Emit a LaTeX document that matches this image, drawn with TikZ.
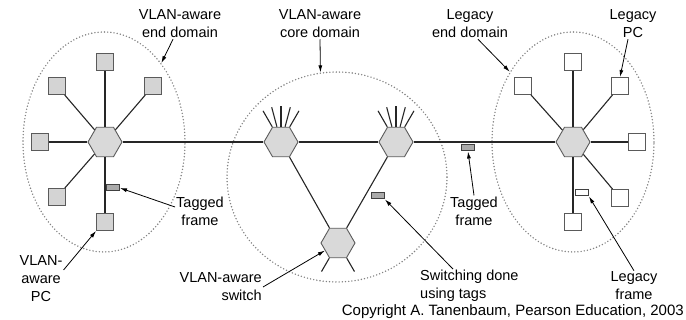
\documentclass[tikz,border=0pt]{standalone}
\usepackage{fontspec}
\setmainfont{Liberation Sans}
\usetikzlibrary{arrows.meta,positioning,calc,shapes.geometric}
\definecolor{hexgray}{RGB}{217,217,217}
\definecolor{boxgray}{RGB}{212,212,212}
\definecolor{edgegray}{RGB}{90,90,90}
\definecolor{dotgray}{RGB}{130,130,130}
\definecolor{tagfill}{RGB}{170,170,170}
\newcommand{\lblfont}{\fontsize{14.5}{18}\selectfont}

\begin{document}
\begin{tikzpicture}[x=1pt,y=1pt,
  hub/.style={regular polygon, regular polygon sides=6, minimum size=34pt, inner sep=0pt, draw=edgegray, fill=hexgray, line width=0.9pt},
  pcbox/.style={rectangle, minimum size=17pt, inner sep=0pt, draw=edgegray, fill=boxgray, line width=0.9pt},
  legbox/.style={pcbox, fill=white},
  tagbox/.style={rectangle, minimum width=13pt, minimum height=6pt, inner sep=0pt, draw=black!75, fill=tagfill, line width=1pt},
  vlanzone/.style={ellipse, inner sep=0pt, draw=dotgray, line width=1.6pt, line cap=round, dash pattern=on 0pt off 3.2pt},
  wire/.style={line width=1.1pt, black!85},
  lbl/.style={font=\lblfont, align=center, inner sep=1pt},
  arr/.style={-{Latex[length=7pt,width=4pt]}, line width=0.8pt}]
  \useasboundingbox (0,0) rectangle (686,320);

  \node[vlanzone, minimum width=162pt, minimum height=220pt] (ldom) at (104,178) {};
  \node[vlanzone, minimum width=220pt, minimum height=210pt] (cdom) at (337,143) {};
  \node[vlanzone, minimum width=162pt, minimum height=220pt] (rdom) at (573,178) {};

  \node[hub] (lh) at (105,178) {};
  \node[hub] (cl) at (281,178) {};
  \node[hub] (cr) at (396,178) {};
  \node[hub] (cb) at (338,77) {};
  \node[hub] (rh) at (573,178) {};

  \foreach \n/\x/\y in {1/105/258, 2/57/234, 3/153/234, 4/40/178, 5/57/123, 6/105/98}{
    \node[pcbox] (lq\n) at (\x,\y) {};
    \draw[wire] (lh) -- (lq\n);
  }
  \foreach \n/\x/\y in {1/573/258, 2/523/234, 3/620/234, 4/637/178, 5/620/122, 6/573/98}{
    \node[legbox] (rq\n) at (\x,\y) {};
    \draw[wire] (rh) -- (rq\n);
  }

  \draw[wire] (lh) -- (cl) -- (cr) -- (rh);
  \draw[wire] (cl) -- (cb) -- (cr);
  \foreach \a in {60,75,90,105,120}{
    \draw[wire] (cl.\a) -- ($(cl)+(\a:36)$);
    \draw[wire] (cr.\a) -- ($(cr)+(\a:36)$);
  }
  \foreach \a in {240,300}
    \draw[wire] (cb.\a) -- ($(cb)+(\a:33)$);

  \node[tagbox] (lframe) at (113,132) {};
  \node[tagbox] (mframe) at (468,172) {};
  \node[tagbox] (sframe) at (378,124) {};
  \node[tagbox, fill=white] (rframe) at (582,127) {};

  \node[lbl] (lenddom) at (180,296) {VLAN-aware\\end domain};
  \node[lbl] (cordom) at (320,296) {VLAN-aware\\core domain};
  \node[lbl] (legdom) at (470,296) {Legacy\\end domain};
  \node[lbl] (legpc) at (633,296) {Legacy\\PC};
  \node[lbl] (ltag) at (200,109) {Tagged\\frame};
  \node[lbl] (mtag) at (474,109) {Tagged\\frame};
  \node[lbl] (vpc) at (41,41) {VLAN-\\aware\\PC};
  \node[lbl, align=right, anchor=east] (vsw) at (263,33) {VLAN-aware\\switch};
  \node[lbl, align=left, anchor=west] (swtag) at (419,34) {Switching done\\using tags};
  \node[lbl] (legfr) at (634,34) {Legacy\\frame};
  \node[font=\fontsize{15}{18}\selectfont, anchor=east, inner sep=1pt] (copy) at (685,8) {Copyright A. Tanenbaum, Pearson Education, 2003};

  \draw[arr] ([xshift=-7pt]lenddom.south) -- (ldom.54);
  \draw[arr] (cordom.south) -- (cdom.99);
  \draw[arr] ([xshift=8pt]legdom.south) -- (rdom.132);
  \draw[arr] ([xshift=-5pt]legpc.south) -- (rq3.north);
  \draw[arr] ([yshift=4pt]ltag.west) -- (lframe.east);
  \draw[arr] ([yshift=9pt]vpc.east) -- (lq6.south west);
  \draw[arr] (vsw.east) -- (cb.210);
  \draw[arr] ([xshift=34pt]swtag.north west) -- (sframe.south east);
  \draw[arr] (mtag.north) -- (mframe.south);
  \draw[arr] (legfr.north) -- (rframe.south east);
\end{tikzpicture}
\end{document}
